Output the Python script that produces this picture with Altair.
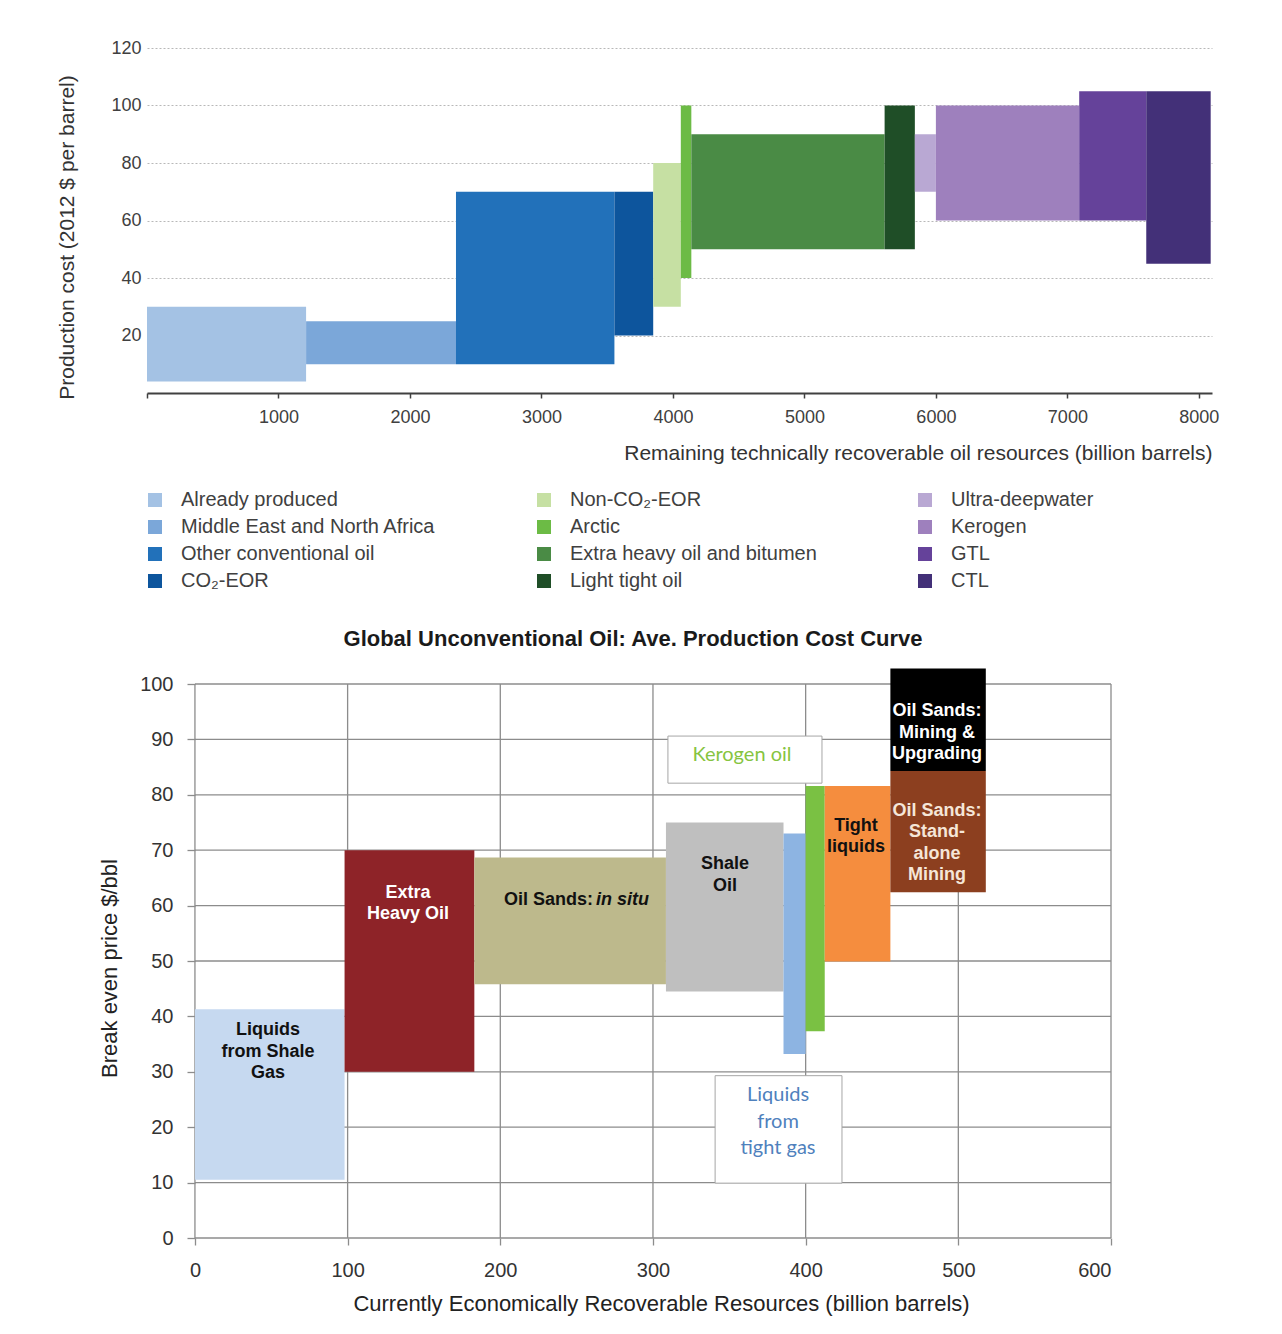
import altair as alt
import pandas as pd

FONT = "Liberation Sans"

# ---------------- Top chart data ----------------
top_names = ["Already produced", "Middle East and North Africa", "Other conventional oil", "CO₂-EOR",
             "Non-CO₂-EOR", "Arctic", "Extra heavy oil and bitumen", "Light tight oil",
             "Ultra-deepwater", "Kerogen", "GTL", "CTL"]
top_x0 = [0, 1210, 2350, 3555, 3850, 4060, 4140, 5610, 5840, 6000, 7090, 7600]
top_x1 = [1210, 2350, 3555, 3850, 4060, 4140, 5610, 5840, 6000, 7090, 7600, 8090]
top_y0 = [4, 10, 10, 20, 30, 40, 50, 50, 70, 60, 60, 45]
top_y1 = [30, 25, 70, 70, 80, 100, 90, 100, 90, 100, 105, 105]
top_colors = ["#a4c2e4", "#7ba7d9", "#2271ba", "#0d559d", "#c6e0a3", "#6cbb45",
              "#4a8b45", "#1f4e27", "#b9a8d3", "#9e80bd", "#65429a", "#433078"]
top_x_ticks = [0, 1000, 2000, 3000, 4000, 5000, 6000, 7000, 8000]
top_y_ticks = [20, 40, 60, 80, 100, 120]

# ---------------- Bottom chart data ----------------
bot_names = ["Liquids from Shale Gas", "Extra Heavy Oil", "Oil Sands: in situ", "Shale Oil",
             "Liquids from tight gas", "Kerogen oil", "Tight liquids",
             "Oil Sands: Stand-alone Mining", "Oil Sands: Mining & Upgrading"]
bot_x0 = [0, 98, 183, 308.5, 385.5, 400, 412.5, 455.5, 455.5]
bot_x1 = [98, 183, 308.5, 385.5, 400, 412.5, 455.5, 518, 518]
bot_y0 = [10.5, 30, 45.8, 44.5, 33.2, 37.3, 49.9, 62.4, 84.3]
bot_y1 = [41.3, 70, 68.7, 75, 73, 81.6, 81.6, 84.3, 102.8]
bot_colors = ["#c6d9f0", "#8e2328", "#bdb98c", "#bfbfbf", "#8db4e2",
              "#7ac143", "#f58d3e", "#8c3f1f", "#000000"]
bot_x_ticks = [0, 100, 200, 300, 400, 500, 600]
bot_y_ticks = [0, 10, 20, 30, 40, 50, 60, 70, 80, 90, 100]

# in-bar labels (bold, centred); y = first line
lbl_text = ["Liquids\nfrom Shale\nGas", "Extra\nHeavy Oil", "Shale\nOil", "Tight\nliquids",
            "Oil Sands:\nMining &\nUpgrading", "Oil Sands:\nStand-\nalone\nMining"]
lbl_x = [47.8, 139.5, 347.2, 433, 486, 486]
lbl_y = [37.5, 62.3, 67.5, 74.4, 95.1, 77.1]
lbl_color = ["#111111", "#ffffff", "#111111", "#111111", "#ffffff", "#f5e6d8"]

# "Oil Sands: in situ" label parts
insitu_text = ["Oil Sands:", "in situ"]
insitu_x = [260.7, 262.7]
insitu_y = [61.0, 61.0]

# call-out boxes
box_text = ["Kerogen oil", "Liquids\nfrom\ntight gas"]
box_x0 = [309.8, 340.7]
box_x1 = [410.7, 423.8]
box_y0 = [82.1, 9.9]
box_y1 = [90.6, 29.3]
box_tx = [358.3, 381.9]
box_ty = [87.2, 25.8]
box_tcolor = ["#86c440", "#4f81bd"]

# ---------------- Top chart ----------------
top_df = pd.DataFrame({"name": top_names, "x0": top_x0, "x1": top_x1, "y0": top_y0, "y1": top_y1})

top = alt.Chart(top_df).mark_rect().encode(
    x=alt.X("x0:Q", scale=alt.Scale(domain=[0, 8100], nice=False),
            axis=alt.Axis(values=top_x_ticks, format="d",
                          labelExpr="datum.value == 0 ? '' : datum.label",
                          grid=False, domain=True, domainColor="#404040", domainWidth=2,
                          ticks=True, tickColor="#404040", tickSize=5, tickWidth=1.5,
                          labelFontSize=18, labelColor="#404040", labelPadding=10,
                          title="Remaining technically recoverable oil resources (billion barrels)",
                          titleAnchor="end", titleFontSize=21, titleFontWeight="normal",
                          titleColor="#333333", titlePadding=16)),
    x2="x1:Q",
    y=alt.Y("y0:Q", scale=alt.Scale(domain=[0, 120], nice=False),
            axis=alt.Axis(values=top_y_ticks, grid=True, gridColor="#b8b8b8",
                          gridDash=[2, 2], gridWidth=1, ticks=False, domain=False,
                          labelFontSize=18, labelColor="#404040", labelPadding=6,
                          title="Production cost (2012 $ per barrel)", titleFontSize=21,
                          titleFontWeight="normal", titleColor="#333333", titlePadding=33,
                          titleY=189)),
    y2="y1:Q",
    color=alt.Color("name:N", scale=alt.Scale(domain=top_names, range=top_colors),
                    legend=alt.Legend(title=None, orient="none", legendX=-2, legendY=442,
                                      columns=3, columnPadding=98, rowPadding=7,
                                      symbolType="square", symbolSize=196,
                                      symbolStrokeWidth=0, labelFontSize=20,
                                      labelColor="#404040", labelOffset=16,
                                      labelLimit=400, gridAlign="each")),
).properties(width=1065, height=345)

# ---------------- Bottom chart ----------------
bot_df = pd.DataFrame({"name": bot_names, "x0": bot_x0, "x1": bot_x1, "y0": bot_y0,
                       "y1": bot_y1, "color": bot_colors})
xs = alt.Scale(domain=[-31.4, 600], nice=False)
ys = alt.Scale(domain=[0, 100], nice=False)
GRID = "#8c8c8c"

hgrid = alt.Chart(pd.DataFrame({"v": bot_y_ticks})).mark_rule(color=GRID, strokeWidth=1.3).encode(
    y=alt.Y("v:Q", scale=ys), x=alt.datum(0), x2=alt.datum(600))
vgrid = alt.Chart(pd.DataFrame({"v": bot_x_ticks})).mark_rule(color=GRID, strokeWidth=1.3).encode(
    x=alt.X("v:Q", scale=xs), y=alt.datum(0), y2=alt.datum(100))

bars = alt.Chart(bot_df).mark_rect().encode(
    x=alt.X("x0:Q", scale=xs,
            axis=alt.Axis(values=bot_x_ticks, grid=False, domain=False,
                          tickColor=GRID, tickSize=7, tickWidth=1.3,
                          labelFontSize=20, labelColor="#333333", labelPadding=15,
                          title="Currently Economically Recoverable Resources (billion barrels)",
                          titleFontSize=22, titleFontWeight="normal", titleColor="#222222",
                          titlePadding=13, titleX=514)),
    x2="x1:Q",
    y=alt.Y("y0:Q", scale=ys,
            axis=alt.Axis(values=bot_y_ticks, grid=False, domain=False, offset=-48,
                          tickColor=GRID, tickSize=8, tickWidth=1.3,
                          labelFontSize=20, labelColor="#333333", labelPadding=14,
                          title="Break even price $/bbl", titleFontSize=22,
                          titleFontWeight="normal", titleColor="#222222", titlePadding=18,
                          titleY=284)),
    y2="y1:Q",
    color=alt.Color("color:N", scale=None),
)

box_df = pd.DataFrame({"t": box_text, "x0": box_x0, "x1": box_x1, "y0": box_y0, "y1": box_y1,
                       "tx": box_tx, "ty": box_ty, "c": box_tcolor})
boxes = alt.Chart(box_df).mark_rect(fill="white", stroke="#a6a6a6", strokeWidth=1).encode(
    x="x0:Q", x2="x1:Q", y="y0:Q", y2="y1:Q")
box_labels = alt.Chart(box_df).mark_text(font="Lato", fontSize=20, lineBreak="\n",
                                         lineHeight=26.5, baseline="middle").encode(
    x="tx:Q", y="ty:Q", text="t:N", color=alt.Color("c:N", scale=None))

lbl_df = pd.DataFrame({"t": lbl_text, "x": lbl_x, "y": lbl_y, "c": lbl_color})
labels = alt.Chart(lbl_df).mark_text(font=FONT, fontWeight="bold", fontSize=18, lineBreak="\n",
                                     lineHeight=21.5, baseline="middle").encode(
    x="x:Q", y="y:Q", text="t:N", color=alt.Color("c:N", scale=None))

ins_df = pd.DataFrame({"t": insitu_text, "x": insitu_x, "y": insitu_y})
ins1 = alt.Chart(ins_df).transform_filter("datum.t == 'Oil Sands:'").mark_text(
    font=FONT, fontWeight="bold", fontSize=18, align="right", baseline="middle",
    color="#111111").encode(x="x:Q", y="y:Q", text="t:N")
ins2 = alt.Chart(ins_df).transform_filter("datum.t == 'in situ'").mark_text(
    font=FONT, fontWeight="bold", fontStyle="italic", fontSize=18, align="left",
    baseline="middle", color="#111111").encode(x="x:Q", y="y:Q", text="t:N")

bottom = alt.layer(hgrid, vgrid, bars, boxes, box_labels, labels, ins1, ins2).properties(
    width=964, height=554,
    title=alt.TitleParams("Global Unconventional Oil: Ave. Production Cost Curve",
                          fontSize=22, fontWeight="bold", color="#1a1a1a", frame="group",
                          anchor="middle", dx=4, offset=17),
)

chart = alt.vconcat(top, bottom, spacing=165).properties(
    padding={"left": 48, "top": 31, "right": 10, "bottom": 10}
).configure(font=FONT).configure_view(stroke=None)

chart.save("out.html", embed_options={"renderer": "svg", "actions": False})
